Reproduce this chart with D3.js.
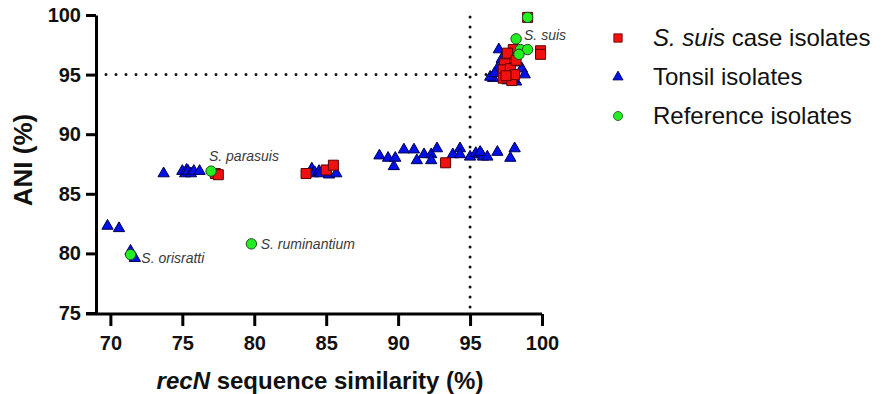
<!DOCTYPE html>
<html>
<head>
<meta charset="utf-8">
<script src="https://cdn.jsdelivr.net/npm/d3@7"></script>
<style>
  body { margin: 0; background: #fff; }
  svg { font-family: "Liberation Sans", Arial, sans-serif; }
</style>
</head>
<body>
<svg id="chart" width="881" height="394"></svg>
<script>
// S. suis case isolates (red squares)
const caseX = [99.0, 99.9, 99.9, 98.0, 97.7, 97.4, 97.3, 97.8, 97.3, 97.9, 98.1, 97.6, 98.2, 97.5,
  77.3, 77.5, 83.6, 85.0, 85.5, 93.3];
const caseY = [99.8, 97.0, 96.7, 97.1, 96.4, 95.9, 95.4, 95.5, 94.7, 94.5, 95.0, 96.8, 96.2, 94.9,
  86.7, 86.6, 86.7, 87.0, 87.4, 87.6];

// Tonsil isolates (blue triangles)
const tonsilX = [69.8, 70.6, 71.4, 71.7, 73.7, 75.0, 75.2, 75.3, 75.4, 75.6, 75.8, 76.2,
  84.0, 84.1, 84.2, 84.5, 84.6, 85.2, 85.7,
  88.7, 89.3, 89.8, 89.7, 90.4, 91.1, 91.3, 91.8, 92.3, 92.3, 92.7, 93.8, 94.3, 94.3,
  95.0, 95.4, 95.6, 95.8, 95.9, 96.2, 95.7, 96.9, 98.1, 97.8,
  97.0, 96.6, 96.4, 96.9, 96.7, 98.6, 98.8, 98.2, 98.0, 97.6, 97.2, 98.3];
const tonsilY = [82.3, 82.1, 80.2, 79.6, 86.7, 86.9, 86.7, 87.0, 86.9, 86.7, 86.9, 86.9,
  87.1, 86.7, 86.8, 86.9, 86.7, 86.6, 86.7,
  88.2, 88.0, 88.0, 87.3, 88.7, 88.7, 87.8, 88.3, 88.3, 87.8, 88.8, 88.3, 88.8, 88.3,
  88.1, 88.4, 88.3, 88.3, 88.1, 88.1, 88.5, 88.5, 88.8, 88.0,
  97.1, 94.7, 94.8, 95.5, 95.1, 95.5, 95.0, 94.4, 94.6, 94.5, 96.3, 96.0];

// Reference isolates (green circles)
const refX = [99.0, 98.2, 98.5, 99.0, 98.4, 77.0, 79.8, 71.4];
const refY = [99.8, 98.0, 97.1, 97.1, 96.7, 86.9, 80.8, 79.9];

// labelled reference strains
const refNames = ['S. suis', 'S. parasuis', 'S. ruminantium', 'S. orisratti'];
const refNameX = [98.75, 76.85, 80.45, 72.15];
const refNameY = [98.3, 88.2, 80.8, 79.6];

const xTicks = [70, 75, 80, 85, 90, 95, 100];
const yTicks = [75, 80, 85, 90, 95, 100];
const cutX = 95, cutY = 95;

const legendLabels = ['case isolates', 'Tonsil isolates', 'Reference isolates'];

const svg = d3.select('#chart');

const x = d3.scaleLinear().domain([69, 100]).range([96, 542]);
const y = d3.scaleLinear().domain([75, 100]).range([313, 15]);

// dotted cut-off lines
const dots = svg.append('g')
  .attr('stroke', '#111')
  .attr('stroke-width', 3)
  .attr('stroke-linecap', 'round')
  .attr('stroke-dasharray', '0 10');
dots.append('line')
  .attr('x1', x(69) + 10).attr('x2', x(100) - 8)
  .attr('y1', y(cutY)).attr('y2', y(cutY));
dots.append('line')
  .attr('x1', x(cutX)).attr('x2', x(cutX))
  .attr('y1', y(100) + 2).attr('y2', y(75) - 4);

// axes
const xAxis = svg.append('g')
  .attr('transform', 'translate(0,314)')
  .call(d3.axisBottom(x).tickValues(xTicks).tickSize(12).tickSizeOuter(0));
const yAxis = svg.append('g')
  .attr('transform', 'translate(96,0)')
  .call(d3.axisLeft(y).tickValues(yTicks).tickSize(10).tickSizeOuter(0));

[xAxis, yAxis].forEach(g => {
  g.select('.domain').attr('stroke', '#000').attr('stroke-width', 3);
  g.selectAll('.tick line').attr('stroke', '#000').attr('stroke-width', 3);
  g.selectAll('.tick text')
    .attr('fill', '#111')
    .style('font-size', '20px')
    .style('font-weight', 'bold')
    .style('font-family', '"Liberation Sans", Arial, sans-serif');
});
xAxis.select('.domain').attr('d', 'M86,0H542');
xAxis.selectAll('.tick text').attr('dy', '1.05em');
yAxis.selectAll('.tick text').attr('x', -15);

// axis titles
const xTitle = svg.append('text')
  .attr('x', 320).attr('y', 389)
  .attr('text-anchor', 'middle')
  .style('font-size', '24px').style('font-weight', 'bold').attr('fill', '#111');
xTitle.append('tspan').style('font-style', 'italic').text('recN');
xTitle.append('tspan').text(' sequence similarity (%)');

svg.append('text')
  .attr('transform', 'translate(32,160) rotate(-90)')
  .attr('text-anchor', 'middle')
  .style('font-size', '26px').style('font-weight', 'bold').attr('fill', '#111')
  .text('ANI (%)');

// points
const tri = d3.symbol().type(d3.symbolTriangle).size(55);
const sq = d3.symbol().type(d3.symbolSquare).size(100);
const circ = d3.symbol().type(d3.symbolCircle).size(85);

svg.append('g').selectAll('path')
  .data(d3.range(tonsilX.length))
  .join('path')
  .attr('d', tri)
  .attr('transform', i => `translate(${x(tonsilX[i])},${y(tonsilY[i])})`)
  .attr('fill', '#0010e8').attr('stroke', '#000050').attr('stroke-width', 1);

svg.append('g').selectAll('path')
  .data(d3.range(caseX.length))
  .join('path')
  .attr('d', sq)
  .attr('transform', i => `translate(${x(caseX[i])},${y(caseY[i])})`)
  .attr('fill', '#f01010').attr('stroke', '#5a0000').attr('stroke-width', 1);

svg.append('g').selectAll('path')
  .data(d3.range(refX.length))
  .join('path')
  .attr('d', circ)
  .attr('transform', i => `translate(${x(refX[i])},${y(refY[i])})`)
  .attr('fill', '#22ee22').attr('stroke', '#1a4a1a').attr('stroke-width', 1);

// reference labels
svg.append('g').selectAll('text')
  .data(refNames)
  .join('text')
  .attr('x', (d, i) => x(refNameX[i]))
  .attr('y', (d, i) => y(refNameY[i]))
  .attr('dy', '0.35em')
  .style('font-size', '14px').style('font-style', 'italic')
  .attr('fill', '#3a3a3a')
  .text(d => d);

// legend
const legend = svg.append('g');
const rowY = [38, 77, 116];
const markers = [sq.size(70), tri.size(45), circ.size(64)];
const fills = ['#f01010', '#0010e8', '#22ee22'];
const strokes = ['#5a0000', '#000050', '#1a4a1a'];
legendLabels.forEach((label, i) => {
  legend.append('path')
    .attr('d', markers[i]())
    .attr('transform', `translate(618,${rowY[i]})`)
    .attr('fill', fills[i]).attr('stroke', strokes[i]).attr('stroke-width', 0.8);
  const t = legend.append('text')
    .attr('x', 653).attr('y', rowY[i]).attr('dy', '0.35em')
    .style('font-size', '24px').attr('fill', '#111');
  if (i === 0) {
    t.append('tspan').style('font-style', 'italic').text('S. suis ');
  }
  t.append('tspan').text(label);
});
</script>
</body>
</html>
